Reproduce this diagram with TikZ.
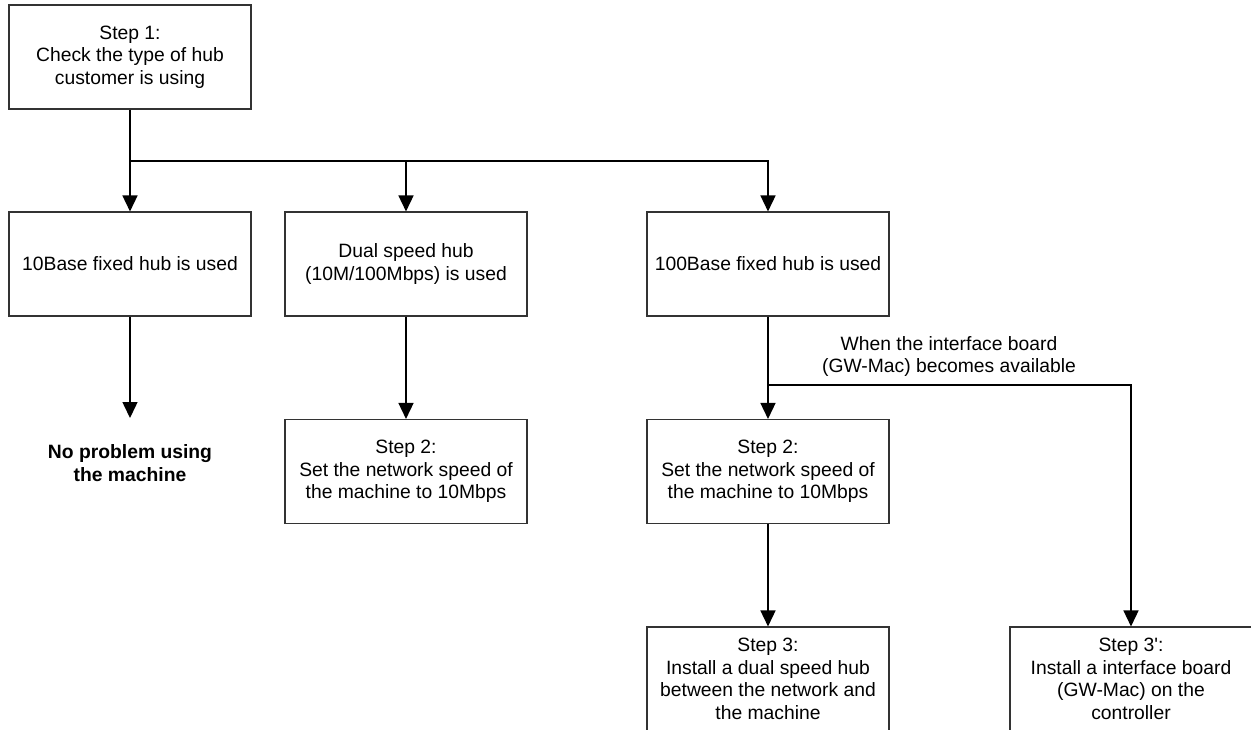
\documentclass[tikz,border=0pt]{standalone}
\usepackage{fontspec}
\setmainfont{Liberation Sans}[Ligatures=TeXOff]
\usetikzlibrary{arrows.meta}
\begin{document}
\begin{tikzpicture}[x=1pt,y=-1pt,
  font=\fontsize{19.3}{22.6}\selectfont,
  box/.style={draw=black!80,line width=1.1pt,minimum width=242pt,minimum height=104pt,
    inner sep=0pt,align=center,text=black},
  conn/.style={line width=1.5pt,black},
  arr/.style={conn,-{Triangle[width=15pt,length=16pt]}}]
\useasboundingbox (0,0) rectangle (1251,729);
\clip (0,0) rectangle (1251,729);
\node[box] (top) at (130,57) {Step 1:\\Check the type of hub\\customer is using};
\node[box] (a) at (130,264) {10Base fixed hub is used};
\node[box] (b) at (406,264) {Dual speed hub\\(10M/100Mbps) is used};
\node[box] (c) at (768,264) {100Base fixed hub is used};
\node[box] (b2) at (406,471.5) {Step 2:\\Set the network speed of\\the machine to 10Mbps};
\node[box] (c2) at (768,471.5) {Step 2:\\Set the network speed of\\the machine to 10Mbps};
\node[box] (c3) at (768,679) {Step 3:\\Install a dual speed hub\\between the network and\\the machine};
\node[box] (d) at (1131,679) {Step 3':\\Install a interface board\\(GW-Mac) on the\\controller};
\node[align=center,font=\fontsize{19.3}{23.5}\selectfont\bfseries] (np) at (130,463) {No problem using\\the machine};
\node[align=center] (lbl) at (949,356.5) {When the interface board\\(GW-Mac) becomes available};
\coordinate (j) at (130,161);
\coordinate (npTop) at (130,418);
\coordinate (br) at (768,385);
\draw[conn] (top.south) -- (j) -- (c.north |- j);
\draw[arr] (j) -- (a.north);
\draw[arr] (j) -| (b.north);
\draw[arr] (j) -| (c.north);
\draw[arr] (a.south) -- (npTop);
\draw[arr] (b.south) -- (b2.north);
\draw[arr] (c.south) -- (c2.north);
\draw[arr] (c2.south) -- (c3.north);
\draw[arr] (br) -| (d.north);
\end{tikzpicture}
\end{document}
